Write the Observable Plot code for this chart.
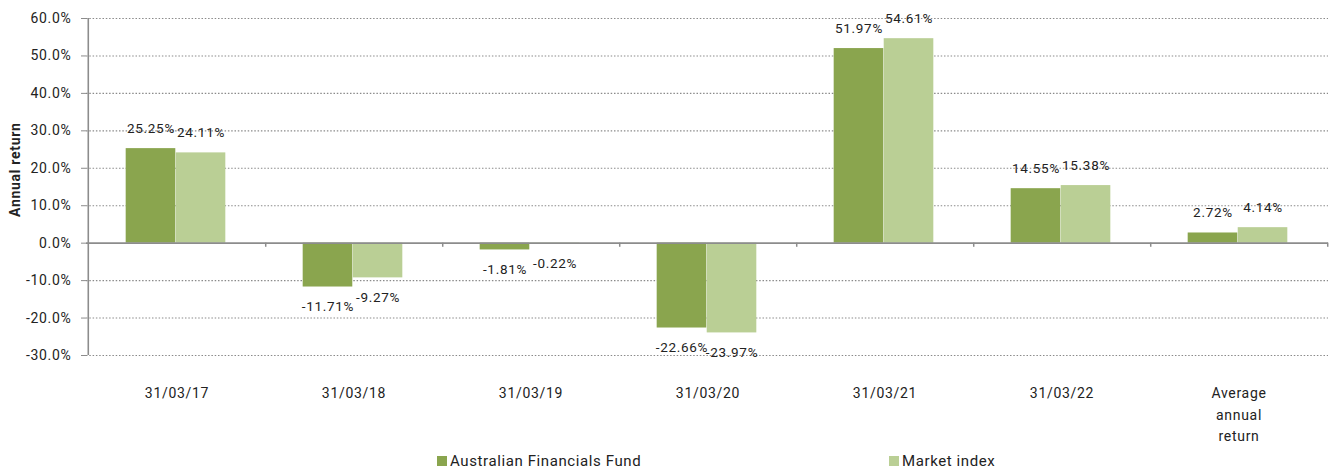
<!DOCTYPE html>
<html><head><meta charset="utf-8">
<script src="https://cdn.jsdelivr.net/npm/d3@7"></script>
<script src="https://cdn.jsdelivr.net/npm/@observablehq/plot@0.6"></script>
<style>
body{margin:0;background:#fff;font-family:Roboto,sans-serif;}
#wrap{position:relative;width:1330px;height:472px;overflow:hidden;}
svg text{letter-spacing:0.7px;}
.leg{position:absolute;top:451px;height:20px;font-size:15px;letter-spacing:0.6px;color:#222;display:flex;align-items:center;white-space:nowrap;}
.sw{display:inline-block;width:10px;height:10px;margin-right:3px;}
</style></head><body>
<div id="wrap"><div id="chart"></div>
<div class="leg" style="left:437px"><span class="sw" id="sw0"></span><span id="lg0"></span></div>
<div class="leg" style="left:889px"><span class="sw" id="sw1"></span><span id="lg1"></span></div>
</div>
<script>
const categories = ["31/03/17","31/03/18","31/03/19","31/03/20","31/03/21","31/03/22","Average\nannual\nreturn"];
const fundReturns = [25.25,-11.71,-1.81,-22.66,51.97,14.55,2.72];
const marketReturns = [24.11,-9.27,-0.22,-23.97,54.61,15.38,4.14];
const seriesNames = ["Australian Financials Fund","Market index"];
const seriesColors = ["#8aa54e","#bacf95"];
const yTicks = [-30,-20,-10,0,10,20,30,40,50,60];

const W = 1330, H = 447, ML = 86, MR = 2, MT = 18, MB = 92;
const bw = (W - ML - MR) / categories.length;
const barW = bw * 0.282, gapL = bw / 2 - barW - 1;

const fundRows = categories.map((c,i)=>({category:c, value:fundReturns[i]}));
const marketRows = categories.map((c,i)=>({category:c, value:marketReturns[i]}));

const fmt = v => v.toFixed(2) + "%";
function labels(rows, dx){
  return [
    Plot.text(rows.filter(d=>d.value>=0), {x:"category", y:"value", text:d=>fmt(d.value), dx, dy:-20, fontSize:13.5, fill:"#222"}),
    Plot.text(rows.filter(d=>d.value<0), {x:"category", y:"value", text:d=>fmt(d.value), dx, dy:20, fontSize:13.5, fill:"#222"})
  ];
}
const axisColor = "#8c8c8c";
const chart = Plot.plot({
  width: W, height: H, marginLeft: ML, marginRight: MR, marginTop: MT, marginBottom: MB,
  style: {fontFamily: "Roboto, sans-serif", fontSize: "14px", color: "#222", background: "white", overflow: "visible"},
  x: {domain: categories, padding: 0, axis: null},
  y: {domain: [-30, 60], axis: null},
  marks: [
    Plot.ruleY(yTicks.filter(d=>d!==0), {stroke: "#8a8a8a", strokeDasharray: "1.5,1.8", strokeWidth: 1.1}),
    Plot.barY(fundRows, {x:"category", y:"value", fill: seriesColors[0], insetLeft: gapL, insetRight: bw - gapL - barW}),
    Plot.barY(marketRows, {x:"category", y:"value", fill: seriesColors[1], insetLeft: gapL + barW, insetRight: bw - gapL - 2*barW}),
    Plot.ruleY([0], {stroke: axisColor, strokeWidth: 1.6}),
    Plot.ruleX(categories, {x: d=>d, y1: 0, y2: -1.1, dx: bw/2, stroke: axisColor, strokeWidth: 1.5}),
    Plot.ruleX([categories[0]], {x: d=>d, y1: -30, y2: 60, dx: -bw/2, stroke: axisColor, strokeWidth: 1.6}),
    Plot.axisY({ticks: yTicks, tickFormat: d => d.toFixed(1) + "%", tickSize: 5, tickPadding: 10, stroke: axisColor, fill: "#222", label: null, fontSize: 14}),
    ...labels(fundRows, -barW/2 - 1),
    ...labels(marketRows, barW/2 - 1),
    Plot.text(categories, {x: d=>d, frameAnchor: "bottom", lineAnchor: "top", dy: 27, lineHeight: 1.55, fontSize: 14, fill: "#222"}),
    Plot.text(["Annual return"], {frameAnchor: "left", rotate: -90, dx: -71, dy: 30, fontWeight: "bold", fontSize: 14, fill: "#222"})
  ]
});
document.getElementById("chart").appendChild(chart);
seriesNames.forEach((n,i)=>{
  document.getElementById("lg"+i).textContent = n;
  document.getElementById("sw"+i).style.background = seriesColors[i];
});
</script>
</body></html>
